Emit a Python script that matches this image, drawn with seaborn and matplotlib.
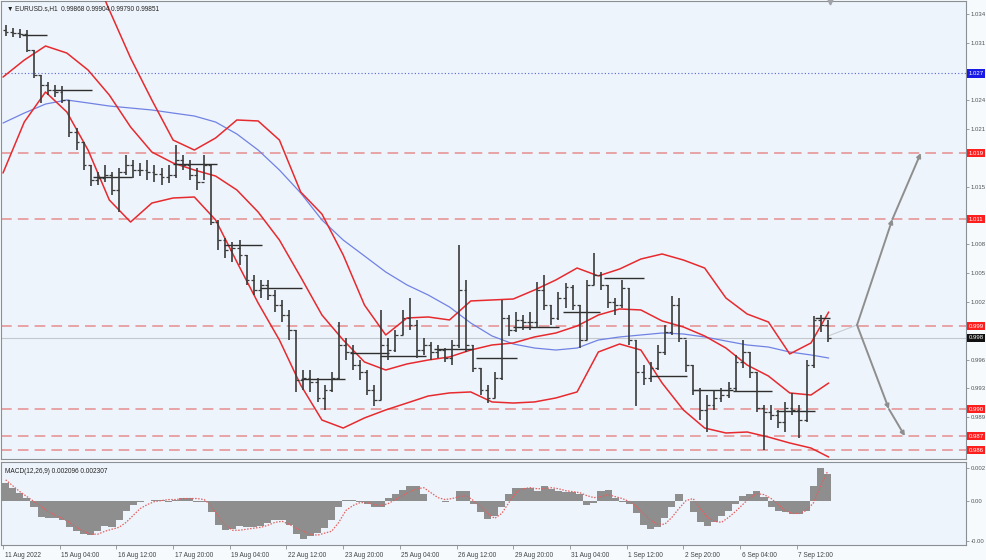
import numpy as np
import pandas as pd
import matplotlib
matplotlib.use("Agg")
import matplotlib.pyplot as plt
import matplotlib.transforms as mtransforms
import seaborn as sns

# ---------------- data ----------------
hours_per_bar = 4
first_open = 1.03273
bar_close = [1.03250, 1.03239, 1.03228, 1.03050, 1.02773, 1.02662, 1.02606, 1.02584, 1.02495, 1.02139,
             1.02028, 1.01773, 1.01606, 1.01628, 1.01662, 1.01495, 1.01695, 1.01773, 1.01717, 1.01717,
             1.01695, 1.01673, 1.01640, 1.01662, 1.01828, 1.01773, 1.01662, 1.01584, 1.01773, 1.01140,
             1.00939, 1.00828, 1.00850, 1.00773, 1.00495, 1.00384, 1.00440, 1.00328, 1.00217, 1.00106,
             0.99939, 0.99384, 0.99406, 0.99362, 0.99184, 0.99273, 0.99406, 0.99773, 0.99695, 0.99551,
             0.99473, 0.99273, 0.99162, 0.99773, 0.99717, 0.99884, 1.00073, 0.99995, 0.99717, 0.99773,
             0.99695, 0.99717, 0.99628, 0.99773, 1.00384, 0.99773, 0.99517, 0.99273, 0.99184, 0.99406,
             1.00073, 0.99939, 1.00051, 1.00028, 1.00028, 1.00384, 1.00217, 1.00073, 1.00295, 1.00417,
             1.00217, 0.99828, 1.00440, 1.00551, 1.00440, 1.00250, 1.00217, 1.00406, 0.99828, 0.99473,
             0.99406, 0.99517, 0.99695, 0.99917, 1.00217, 0.99851, 0.99551, 0.99273, 0.99051, 0.99106,
             0.99184, 0.99217, 0.99295, 0.99584, 0.99695, 0.99473, 0.99073, 0.99028, 0.98995, 0.98917,
             0.99073, 0.99051, 0.98939, 0.99551, 1.00051, 0.99995, 0.99851]
bar_high = [1.03328, 1.03295, 1.03284, 1.03273, 1.03050, 1.02773, 1.02695, 1.02662, 1.02651, 1.02495,
            1.02184, 1.02028, 1.01773, 1.01695, 1.01773, 1.01695, 1.01739, 1.01884, 1.01828, 1.01795,
            1.01828, 1.01773, 1.01739, 1.01773, 1.01995, 1.01884, 1.01828, 1.01739, 1.01884, 1.01773,
            1.01162, 1.00962, 1.00917, 1.00939, 1.00773, 1.00551, 1.00495, 1.00495, 1.00384, 1.00273,
            1.00162, 0.99939, 0.99495, 0.99495, 0.99406, 0.99328, 0.99473, 1.00028, 0.99851, 0.99773,
            0.99606, 0.99495, 0.99328, 1.00162, 0.99851, 0.99939, 1.00162, 1.00295, 1.00051, 0.99851,
            0.99806, 0.99773, 0.99739, 0.99828, 1.00884, 1.00495, 0.99773, 0.99517, 0.99328, 0.99473,
            1.00273, 1.00106, 1.00139, 1.00106, 1.00139, 1.00473, 1.00551, 1.00217, 1.00362, 1.00462,
            1.00440, 1.00217, 1.00495, 1.00795, 1.00584, 1.00440, 1.00295, 1.00495, 1.00406, 0.99828,
            0.99551, 0.99584, 0.99773, 0.99995, 1.00317, 1.00295, 0.99828, 0.99551, 0.99295, 0.99217,
            0.99273, 0.99295, 0.99362, 0.99662, 0.99828, 0.99695, 0.99473, 0.99106, 0.99106, 0.99051,
            0.99140, 0.99240, 0.99106, 0.99606, 1.00095, 1.00106, 1.00051]
bar_low = [1.03206, 1.03195, 1.03184, 1.03028, 1.02739, 1.02462, 1.02550, 1.02528, 1.02462, 1.02084,
           1.01939, 1.01717, 1.01540, 1.01551, 1.01584, 1.01440, 1.01251, 1.01662, 1.01628, 1.01651,
           1.01606, 1.01584, 1.01551, 1.01573, 1.01628, 1.01717, 1.01606, 1.01495, 1.01606, 1.01106,
           1.00828, 1.00739, 1.00695, 1.00662, 1.00440, 1.00328, 1.00295, 1.00273, 1.00139, 1.00028,
           0.99828, 0.99251, 0.99273, 0.99251, 0.99140, 0.99051, 0.99251, 0.99384, 0.99606, 0.99495,
           0.99384, 0.99217, 0.99095, 0.99162, 0.99606, 0.99695, 0.99884, 0.99939, 0.99628, 0.99662,
           0.99606, 0.99628, 0.99584, 0.99551, 0.99739, 0.99695, 0.99473, 0.99217, 0.99128, 0.99184,
           0.99384, 0.99873, 0.99917, 0.99939, 0.99939, 0.99962, 1.00162, 0.99995, 1.00051, 1.00184,
           1.00162, 0.99739, 0.99828, 1.00440, 1.00384, 1.00184, 1.00106, 1.00184, 0.99773, 0.99095,
           0.99328, 0.99362, 0.99495, 0.99662, 0.99884, 0.99806, 0.99473, 0.99217, 0.98939, 0.98806,
           0.99051, 0.99140, 0.99184, 0.99251, 0.99517, 0.99406, 0.99028, 0.98606, 0.98939, 0.98850,
           0.98806, 0.98995, 0.98739, 0.98917, 0.99517, 0.99917, 0.99806]

band_hour = list(range(0, 457, 12)) + [466]
bb_upper = [1.04050, 1.04106, 1.04162, 1.04217, 1.04050, 1.03495, 1.02962, 1.02495, 1.02050, 1.01939,
            1.02073, 1.02273, 1.02262, 1.02050, 1.01473, 1.01228, 1.00773, 1.00217, 0.99884, 1.00073,
            1.00084, 1.00051, 1.00262, 1.00273, 1.00284, 1.00384, 1.00495, 1.00628, 1.00540, 1.00617,
            1.00728, 1.00784, 1.00717, 1.00628, 1.00295, 1.00117, 1.00028, 0.99673, 0.99795, 1.00139]
bb_middle = [1.02750, 1.02939, 1.03095, 1.03017, 1.02828, 1.02550, 1.02195, 1.01917, 1.01795, 1.01717,
             1.01650, 1.01495, 1.01250, 1.00939, 1.00528, 1.00106, 0.99828, 0.99584, 0.99495, 0.99562,
             0.99606, 0.99640, 0.99717, 0.99773, 0.99795, 0.99862, 0.99906, 0.99984, 1.00106, 1.00173,
             1.00162, 1.00040, 0.99973, 0.99873, 0.99739, 0.99550, 0.99428, 0.99240, 0.99217, 0.99350]
bb_lower = [1.01684, 1.02250, 1.02584, 1.02362, 1.01939, 1.01384, 1.01139, 1.01350, 1.01406, 1.01417,
            1.01162, 1.00695, 1.00239, 0.99828, 0.99328, 0.98939, 0.98850, 0.98962, 0.99051, 0.99128,
            0.99206, 0.99240, 0.99251, 0.99140, 0.99128, 0.99140, 0.99184, 0.99251, 0.99695, 0.99784,
            0.99717, 0.99350, 0.99051, 0.98850, 0.98795, 0.98806, 0.98750, 0.98684, 0.98628, 0.98528]
ma_slow = [1.02239, 1.02350, 1.02450, 1.02495, 1.02462, 1.02428, 1.02406, 1.02384, 1.02350, 1.02317,
           1.02250, 1.02117, 1.01939, 1.01717, 1.01462, 1.01162, 1.00939, 1.00762, 1.00584, 1.00440,
           1.00328, 1.00195, 1.00017, 0.99873, 0.99784, 0.99739, 0.99717, 0.99739, 0.99828, 0.99862,
           0.99884, 0.99906, 0.99895, 0.99862, 0.99817, 0.99773, 0.99750, 0.99695, 0.99662, 0.99628]

# MACD values in units of 1e-4
macd_hist_e4 = [14.0, 10.1, 6.2, 2.3, -5.4, -13.2, -14.0, -14.0, -15.5, -21.0,
                -24.1, -26.4, -27.2, -24.1, -20.2, -21.0, -15.5, -7.8, -3.1, -0.8,
                0.0, 0.8, 0.8, -0.8, 0.8, 2.3, 2.3, -0.8, -0.8, -9.3,
                -19.4, -23.3, -22.5, -20.2, -21.0, -21.0, -20.2, -17.8, -15.5, -15.5,
                -19.4, -26.4, -30.3, -27.9, -25.6, -21.7, -15.5, -4.7, 0.8, 0.8,
                -0.8, -2.3, -5.4, -4.7, 2.3, 5.4, 8.5, 11.6, 11.6, 5.4,
                0.0, 0.0, -0.8, 0.0, 7.8, 7.8, -2.3, -9.3, -14.7, -12.4,
                -5.4, 5.4, 10.1, 10.1, 10.1, 7.8, 11.6, 9.3, 7.8, 7.0,
                7.0, 5.4, -3.1, -1.6, 7.8, 8.5, 2.3, -0.8, -2.3, -10.1,
                -19.4, -22.5, -21.0, -14.0, -4.7, 5.4, 0.0, -9.3, -17.1, -20.2,
                -17.1, -12.4, -8.5, -2.3, 3.9, 5.4, 7.8, 3.1, -4.7, -7.8,
                -9.3, -10.9, -10.9, -8.5, 11.6, 25.6, 21.0]
macd_signal_e4 = [16.3, 11.6, 7.0, 3.1, -0.8, -4.7, -8.5, -11.6, -14.0, -17.1,
                  -21.0, -24.1, -26.4, -26.4, -24.1, -22.5, -21.0, -17.1, -11.6, -6.2,
                  -3.1, -0.8, 0.0, 0.8, 0.8, 1.6, 1.6, 1.6, 0.8, -3.9,
                  -12.4, -19.4, -23.3, -23.3, -22.5, -21.7, -21.0, -19.4, -17.1, -16.3,
                  -18.6, -21.7, -24.1, -26.4, -27.2, -25.6, -24.1, -17.1, -7.8, -3.9,
                  -1.6, -1.6, -3.1, -3.9, -2.3, 0.8, 3.9, 7.0, 9.3, 10.1,
                  6.2, 2.3, 0.8, 1.6, 3.1, 3.9, 0.0, -4.7, -10.1, -14.0,
                  -10.1, -1.6, 6.2, 9.3, 10.1, 9.3, 9.3, 10.1, 9.3, 7.8,
                  7.0, 6.2, 3.9, 2.3, 3.1, 4.7, 3.1, 1.6, -0.8, -4.7,
                  -10.1, -15.5, -18.6, -18.6, -13.2, -6.2, 0.0, 1.6, -6.2, -13.2,
                  -16.3, -17.1, -13.2, -8.5, -3.1, 2.3, 5.4, 4.7, 1.6, -3.1,
                  -7.8, -10.1, -10.1, -7.8, -1.6, 11.6, 23.3]

day_start = [11, 29, 51, 96, 125, 145, 168, 196, 213, 243, 267, 288, 316, 339, 365, 389, 412, 436, 458]
day_end = [25, 50, 73, 121, 146, 169, 193, 218, 239, 265, 290, 314, 337, 362, 386, 412, 434, 458, 467]
day_level = [1.03217, 1.02606, 1.01640, 1.01784, 1.00884, 1.00406, 0.99395, 0.99684, 0.99651, 0.99728,
             0.99628, 0.99973, 1.00139, 1.00517, 0.99428, 0.99273, 0.99262, 0.99040, 1.00073]

time_labels = ["11 Aug 2022", "15 Aug 04:00", "16 Aug 12:00", "17 Aug 20:00", "19 Aug 04:00",
               "22 Aug 12:00", "23 Aug 20:00", "25 Aug 04:00", "26 Aug 12:00", "29 Aug 20:00",
               "31 Aug 04:00", "1 Sep 12:00", "2 Sep 20:00", "6 Sep 04:00", "7 Sep 12:00"]
time_label_hour = list(range(0, 449, 32))

# right-hand price scale (only the part of each label that is visible in the reference)
price_ticks = [1.03450, 1.03130, 1.02490, 1.02170, 1.01530,
               1.00890, 1.00570, 1.00250, 0.99610, 0.99290, 0.98970]
price_tick_labels = ["1.034", "1.031", "1.024", "1.021", "1.015",
                     "1.008", "1.005", "1.002", "0.996", "0.993", "0.989"]
red_levels = [1.01906, 1.01172, 0.99983, 0.99061, 0.98761, 0.98606]
red_level_labels = ["1.019", "1.011", "0.999", "0.990", "0.987", "0.986"]
blue_level = 1.02790
blue_level_label = "1.027"
last_price = 0.99851
last_price_label = "0.998"
macd_ticks_e4 = [25.6, 0.0, -31.8]
macd_tick_labels = ["0.002", "0.00", "-0.00"]

fc_start = (482, 0.99995)
fc_up = [(502, 1.01172), (518, 1.01906)]
fc_down = [(500, 0.99061), (509, 0.98761)]

title_text = "\u25bc EURUSD.s,H1  0.99868 0.99904 0.99790 0.99851"
macd_text = "MACD(12,26,9) 0.002096 0.002307"

# ---------------- style ----------------
sns.set_theme(style="white")
plt.rcParams['font.family'] = ['Liberation Sans', 'DejaVu Sans']

plot_bg = '#EEF4FB'
fig_bg = '#F7FAFD'
red = '#E62A2E'
blue = '#7082E4'
lvl_red = '#E58E8E'
bar_col = '#3A3A3A'
axis_col = '#8A8F96'
fs = 4.7
fs_scale = 4.3

W, H = 986, 560
fig = plt.figure(figsize=(W / 100, H / 100), dpi=100, facecolor=fig_bg)
ax = fig.add_axes([1 / W, (H - 459) / H, (966 - 1) / W, (459 - 1) / H], facecolor=plot_bg)
ax2 = fig.add_axes([1 / W, (H - 545) / H, (966 - 1) / W, (545 - 462) / H], facecolor=plot_bg, sharex=ax)

# ---------------- main panel ----------------
n = len(bar_close)
bx = np.arange(n) * hours_per_bar + 1.5
opens = [first_open] + bar_close[:-1]

for lv in red_levels:
    ax.axhline(lv, color=lvl_red, lw=1.1, dashes=(7, 4), zorder=1)
ax.axhline(blue_level, color='#5566DD', lw=0.8, dashes=(1, 2), zorder=1)
ax.axhline(last_price, color='#C3C8CE', lw=0.8, zorder=1)

sns.lineplot(x=band_hour, y=ma_slow, ax=ax, color=blue, lw=0.9, zorder=2)
for band in (bb_upper, bb_middle, bb_lower):
    sns.lineplot(x=band_hour, y=band, ax=ax, color=red, lw=1.1, zorder=3)

ax.hlines(day_level, day_start, day_end, color='#2E2E2E', lw=1.0, zorder=4)

ax.vlines(bx, bar_low, bar_high, color=bar_col, lw=1.2, zorder=5)
ax.hlines(opens, bx - 1.6, bx, color=bar_col, lw=0.9, zorder=5)
ax.hlines(bar_close, bx, bx + 1.6, color=bar_col, lw=0.9, zorder=5)

ax.plot([bx[-1], fc_start[0]], [bar_close[-1] + 0.0002, fc_start[1]], color='#C9CDD3', lw=0.8, zorder=4)
for path in (fc_up, fc_down):
    prev = fc_start
    for pt in path:
        ax.annotate("", xy=pt, xytext=prev,
                    arrowprops=dict(arrowstyle='-|>', color='#8E8E8E', lw=1.4,
                                    mutation_scale=6, shrinkA=0, shrinkB=0), zorder=6)
        prev = pt

ax.set_xlim(-1.13, 543.5)
ax.set_ylim(0.98506, 1.03595)

ax.yaxis.tick_right()
ax.set_yticks(price_ticks)
ax.set_yticklabels(price_tick_labels)
ax.tick_params(axis='y', which='both', right=True, length=2, width=0.6, color=axis_col,
               labelsize=fs_scale, labelcolor='#505558', pad=1.5)
ax.tick_params(axis='x', bottom=False, labelbottom=False)
for s in ax.spines.values():
    s.set_color(axis_col)
    s.set_linewidth(0.8)
ax.set_xlabel("")
ax.set_ylabel("")

trans = mtransforms.blended_transform_factory(ax.transAxes, ax.transData)
tags = [(lv, lab, '#FF1E1E') for lv, lab in zip(red_levels, red_level_labels)]
tags += [(blue_level, blue_level_label, '#1A1AE6'), (last_price, last_price_label, '#111111')]
for lv, lab, col in tags:
    ax.text(1.0025, lv, lab, transform=trans, fontsize=fs_scale, color='white', va='center', ha='left',
            bbox=dict(boxstyle='square,pad=0.3', fc=col, ec='none'), clip_on=False, zorder=10)

ax.text(0.006, 0.992, title_text, transform=ax.transAxes, fontsize=fs, color='#222222',
        va='top', ha='left', zorder=10)
ax.plot([467], [1.03580], marker='v', color='#A0A4AA', ms=3.5, zorder=10, clip_on=False)

# ---------------- MACD panel ----------------
hist = np.array(macd_hist_e4) * 1e-4
sig = np.array(macd_signal_e4) * 1e-4
ax2.bar(bx, hist, width=hours_per_bar, color='#8E8E8E', edgecolor='none', zorder=2)
sns.lineplot(x=bx, y=sig, ax=ax2, color='#E46060', lw=0.9, linestyle=(0, (1.2, 1.2)), zorder=3)
ax2.set_ylim(-0.00349, 0.00303)
ax2.yaxis.tick_right()
ax2.set_yticks(np.array(macd_ticks_e4) * 1e-4)
ax2.set_yticklabels(macd_tick_labels)
ax2.tick_params(axis='y', right=True, length=2, width=0.6, color=axis_col, labelsize=fs_scale,
                labelcolor='#505558', pad=1.5)
ax2.set_xticks(time_label_hour)
ax2.set_xticklabels(time_labels, ha='left')
ax2.tick_params(axis='x', bottom=True, length=3, width=0.6, color=axis_col, labelsize=fs,
                labelcolor='#404448', pad=2)
for lab in ax2.get_xticklabels():
    lab.set_transform(lab.get_transform() + mtransforms.ScaledTranslation(1.5 / 100, 0, fig.dpi_scale_trans))
for s in ax2.spines.values():
    s.set_color(axis_col)
    s.set_linewidth(0.8)
ax2.set_xlabel("")
ax2.set_ylabel("")
ax2.text(0.004, 0.93, macd_text, transform=ax2.transAxes, fontsize=fs, color='#222222',
         va='top', ha='left', zorder=10)
ax2.set_xlim(-1.13, 543.5)

fig.savefig("out.png", dpi=100, facecolor=fig_bg)
